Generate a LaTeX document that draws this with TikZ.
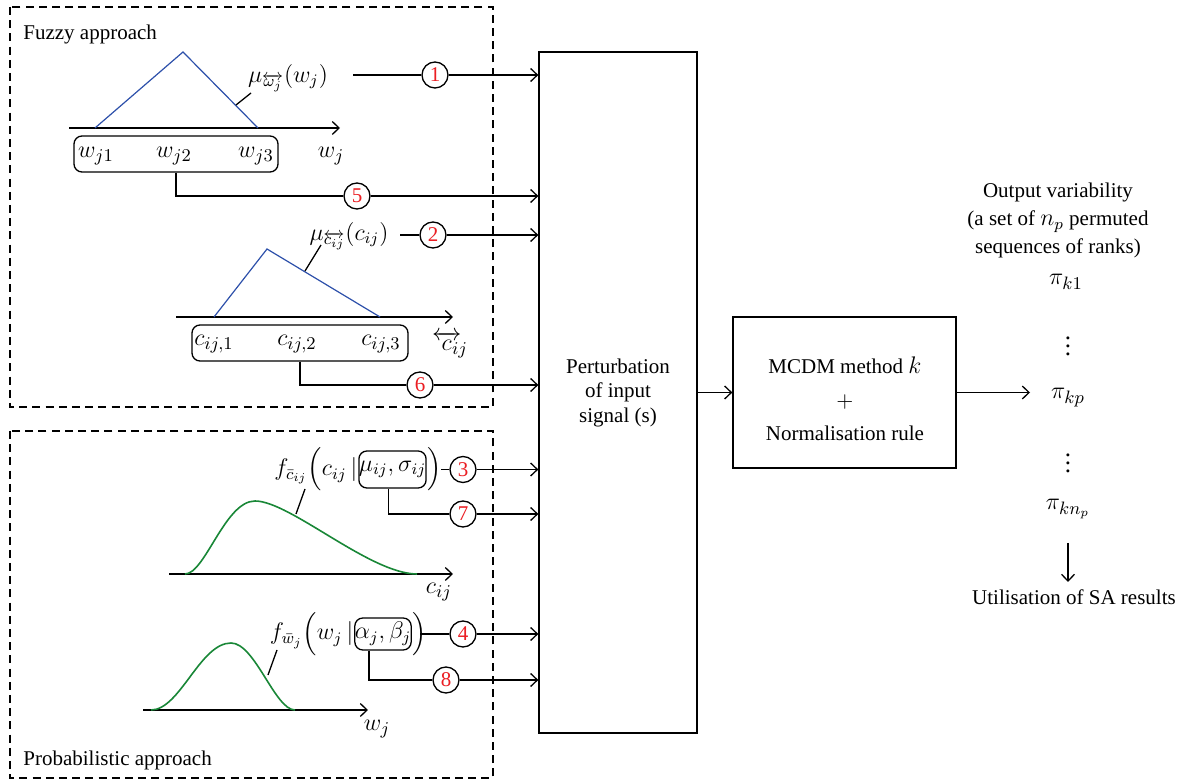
\documentclass[tikz,border=0pt]{standalone}
\usepackage{amsmath}
\usepackage{fontspec}
\setmainfont{Liberation Serif}
\usetikzlibrary{arrows.meta}

\definecolor{fuzzyblue}{RGB}{45,80,170}
\definecolor{pdfgreen}{RGB}{25,135,55}
\definecolor{numred}{RGB}{235,30,35}

\tikzset{
  wire/.style={line width=0.65pt},
  arr/.style={wire, -{Straight Barb[length=3.4pt,width=6.5pt]}},
  tag/.style={draw, circle, line width=0.65pt, minimum size=13pt, inner sep=0pt,
              fill=white, text=numred},
  frame/.style={draw, line width=0.65pt, dash pattern=on 4pt off 2.6pt},
  block/.style={draw, rectangle, line width=0.65pt, inner sep=0pt},
  tri/.style={draw=fuzzyblue, line width=0.6pt},
  density/.style={draw=pdfgreen, line width=0.8pt},
  pill/.style={draw, rectangle, rounded corners=4pt, line width=0.65pt, inner sep=0pt},
  tight/.style={inner sep=0.3pt},
  bigmath/.style={font=\fontsize{12.5}{14}\selectfont},
  midmath/.style={font=\fontsize{11.5}{13}\selectfont},
}

\begin{document}
\begin{tikzpicture}[x=0.5pt, y=-0.5pt, font=\fontsize{10.5}{12.6}\selectfont]
\useasboundingbox (0,0) rectangle (1180,780);

% ---------- central blocks ----------
\node[block, minimum width=79pt, minimum height=340.5pt] (pert) at (618,392.5) {};
\node[align=center, font=\fontsize{10.5}{12.25}\selectfont] (perttxt) at (618,392.5)
  {Perturbation\\of input\\signal (s)};

\node[block, minimum width=111.5pt, minimum height=75.5pt] (mcdm) at (844.5,392.5) {};
\node[align=center, font=\fontsize{10.5}{16.75}\selectfont] (mcdmtxt) at (845,399)
  {MCDM method {\fontsize{12}{14}\selectfont$k$}\\$+$\\Normalisation rule};

\draw[arr] (pert.east |- mcdm.west) -- (mcdm.west);

% ---------- output side ----------
\node[align=center, font=\fontsize{10.5}{14}\selectfont] (outtxt) at (1058,220.5)
  {Output variability\\(a set of {\fontsize{12}{14}\selectfont$n_p$} permuted\\sequences of ranks)};
\node[anchor=base, bigmath] (pi1) at (1066,285) {$\pi_{k1}$};
\node[bigmath] (dots1) at (1068,340) {$\vdots$};
\node[anchor=base, bigmath] (pip) at (1068,399) {$\pi_{kp}$};
\node[bigmath] (dots2) at (1068,457) {$\vdots$};
\node[anchor=base, bigmath] (pinp) at (1068,510) {$\pi_{kn_p}$};
\node[anchor=base] (util) at (1074,605) {Utilisation of SA results};

\coordinate (outend) at (1030,392.5);
\draw[arr] (mcdm.east) -- (outend);
\coordinate (dn0) at (1068,543);
\coordinate (dn1) at (1068,582);
\draw[arr] (dn0) -- (dn1);

% ---------- fuzzy approach ----------
\draw[frame] (10,7) rectangle (493,407);
\node[anchor=base west, inner sep=0pt] (fuzzylbl) at (23,40) {Fuzzy approach};

% membership function of the weights
\draw[arr] (69,128) -- (340,128);
\draw[tri] (95,128) -- (183,52) -- (258,128);
\node[midmath] (muw) at (288,78)
  {$\mu_{\overleftrightarrow{\omega_j}}\!\left(w_j\right)$};
\draw[wire] (236,105) -- (251,93);
\node[pill, minimum width=102pt, minimum height=18pt] (wbox) at (176,154) {};
\node[anchor=base, bigmath] (wj1) at (96,158) {$w_{j1}$};
\node[anchor=base, bigmath] (wj2) at (174,158) {$w_{j2}$};
\node[anchor=base, bigmath] (wj3) at (256,158) {$w_{j3}$};
\node[anchor=base, bigmath] (waxis) at (331,158) {$w_j$};

\coordinate (s1) at (353,75);
\node[tag] (c1) at (435,75) {1};
\draw[wire] (s1) -- (c1);
\draw[arr] (c1) -- (c1 -| pert.west);

\node[tag] (c5) at (357,196) {5};
\draw[wire] (wbox.south) |- (c5);
\draw[arr] (c5) -- (c5 -| pert.west);

% membership function of the criteria values
\draw[arr] (176,317) -- (453,317);
\draw[tri] (214,317) -- (267,249) -- (380,317);
\node[midmath] (muc) at (349,236)
  {$\mu_{\overleftrightarrow{c_{ij}}}\!\left(c_{ij}\right)$};
\draw[wire] (305,271) -- (321,245);
\node[pill, minimum width=108pt, minimum height=18pt] (cbox) at (300,343) {};
\node[anchor=base, bigmath] (cij1) at (214,346) {$c_{ij,1}$};
\node[anchor=base, bigmath] (cij2) at (297,346) {$c_{ij,2}$};
\node[anchor=base, bigmath] (cij3) at (381,346) {$c_{ij,3}$};
\node[anchor=base, bigmath] (caxis) at (450,351)
  {${\overleftrightarrow{c}}\mkern-7mu{}_{ij}$};

\coordinate (s2) at (400,235);
\node[tag] (c2) at (433,235) {2};
\draw[wire] (s2) -- (c2);
\draw[arr] (c2) -- (c2 -| pert.west);

\node[tag] (c6) at (420,385) {6};
\draw[wire] (cbox.south) |- (c6);
\draw[arr] (c6) -- (c6 -| pert.west);

% ---------- probabilistic approach ----------
\draw[frame] (10,431) rectangle (493,778);
\node[anchor=base west, inner sep=0pt] (problbl) at (23,766) {Probabilistic approach};

% density of the criteria values
\draw[arr] (169,574) -- (453,574);
\draw[density] (185,574) .. controls (205,574) and (225,501) .. (255,501)
               .. controls (290,501) and (370,574) .. (417,574);
\node[anchor=base, bigmath] (cax) at (439,594) {$c_{ij}$};
\node[pill, minimum width=28.5pt, minimum height=18.5pt, midmath]
  (musig) at (392.5,469.5) {$\mu_{ij},\sigma_{ij}$};
\node[anchor=east, tight, midmath] (fcl) at (musig.west)
  {$f_{\bar{c}_{ij}}\Bigl(c_{ij}\,|$};
\node[anchor=west, tight, midmath] (fcr) at (musig.east) {$\Bigr)$};
\draw[wire] (296,514) -- (305,489);

\coordinate (s3) at (441,469.5);
\node[tag] (c3) at (463,469.5) {3};
\draw[wire] (s3) -- (c3);
\draw[arr] (c3) -- (c3 -| pert.west);

\node[tag] (c7) at (463,514) {7};
\draw[wire] ([xshift=-2pt]musig.south) |- (c7);
\draw[arr] (c7) -- (c7 -| pert.west);

% density of the weights
\draw[arr] (143,710) -- (368,710);
\draw[density] (151,710) .. controls (180,710) and (200,643) .. (231,643)
               .. controls (255,643) and (275,710) .. (295,710);
\node[anchor=base, bigmath] (wax) at (377,731) {$w_j$};
\node[pill, minimum width=27pt, minimum height=16pt, midmath]
  (ab) at (383,634) {$\alpha_j,\beta_j$};
\node[anchor=east, tight, midmath] (fwl) at (ab.west)
  {$f_{\bar{w}_j}\Bigl(w_j\,|$};
\node[anchor=west, tight, midmath] (fwr) at (ab.east) {$\Bigr)$};
\draw[wire] (268,675) -- (277,650);

\coordinate (s4) at (420,634);
\node[tag] (c4) at (463,634) {4};
\draw[wire] (s4) -- (c4);
\draw[arr] (c4) -- (c4 -| pert.west);

\node[tag] (c8) at (446,680) {8};
\draw[wire] ([xshift=-7pt]ab.south) |- (c8);
\draw[arr] (c8) -- (c8 -| pert.west);

\end{tikzpicture}
\end{document}
